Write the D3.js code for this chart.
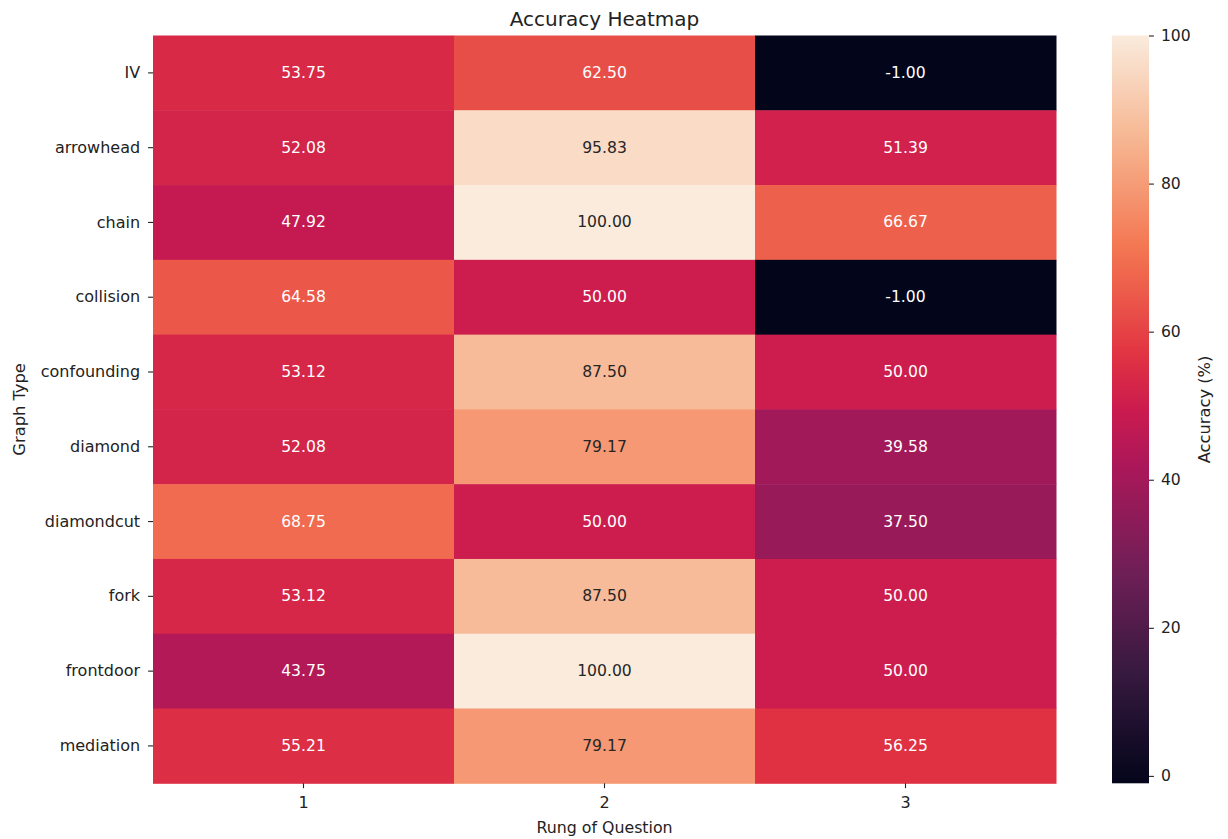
<!DOCTYPE html>
<html>
<head>
<meta charset="utf-8">
<script src="https://cdn.jsdelivr.net/npm/d3@7"></script>
<style>
  body { margin: 0; background: #fff; }
  text { font-family: "DejaVu Sans", sans-serif; }
</style>
</head>
<body>
<svg id="chart" width="1228" height="839"></svg>
<script>
// Graph types (rows) and question rungs (columns)
const graphTypes = ["IV", "arrowhead", "chain", "collision", "confounding",
                    "diamond", "diamondcut", "fork", "frontdoor", "mediation"];
const rungs = ["1", "2", "3"];

// Accuracy (%) per graph type, one array per rung; -1 marks no data
const rung1 = [53.75, 52.08, 47.92, 64.58, 53.12, 52.08, 68.75, 53.12, 43.75, 55.21];
const rung2 = [62.50, 95.83, 100.00, 50.00, 87.50, 79.17, 50.00, 87.50, 100.00, 79.17];
const rung3 = [-1.00, 51.39, 66.67, -1.00, 50.00, 39.58, 37.50, 50.00, 50.00, 56.25];

const colorbarTicks = [0, 20, 40, 60, 80, 100];

const svg = d3.select("#chart");
const plot = { left: 153, right: 1056, top: 35.5, bottom: 783.3 };
const cbar = { left: 1112, right: 1149 };
const INK = "#222";

const seriesByRung = [rung1, rung2, rung3];
const cells = [];
graphTypes.forEach((g, i) => {
  rungs.forEach((r, j) => cells.push({ g, r, v: seriesByRung[j][i] }));
});

const allValues = seriesByRung.flat();
const vmin = d3.min(allValues), vmax = d3.max(allValues);

// "rocket"-style sequential palette (position, colour)
const rocketPos   = [0, 1/7, 2/7, 3/7, 0.5, 4/7, 5/7, 6/7, 1];
const rocketStops = ["#03051a", "#35193e", "#701f57", "#ad1759", "#cb1b4f",
                     "#e13342", "#f37651", "#f6b48f", "#faebdd"];
const t = d3.scaleLinear()
  .domain(rocketPos)
  .range(rocketStops)
  .interpolate(d3.interpolateRgb)
  .clamp(true);
const color = v => t((v - vmin) / (vmax - vmin));

const x = d3.scaleBand().domain(rungs).range([plot.left, plot.right]);
const y = d3.scaleBand().domain(graphTypes).range([plot.top, plot.bottom]);

function luminance(c) {
  const rgb = d3.rgb(c);
  const lin = u => { u /= 255; return u <= 0.03928 ? u / 12.92 : Math.pow((u + 0.055) / 1.055, 2.4); };
  return 0.2126 * lin(rgb.r) + 0.7152 * lin(rgb.g) + 0.0722 * lin(rgb.b);
}

// Cells
svg.append("g").selectAll("rect").data(cells).join("rect")
  .attr("x", d => x(d.r))
  .attr("y", d => y(d.g))
  .attr("width", x.bandwidth() + 0.5)
  .attr("height", y.bandwidth() + 0.5)
  .attr("fill", d => color(d.v));

// Value annotations
svg.append("g").selectAll("text").data(cells).join("text")
  .attr("x", d => x(d.r) + x.bandwidth() / 2)
  .attr("y", d => y(d.g) + y.bandwidth() / 2)
  .attr("text-anchor", "middle")
  .attr("dominant-baseline", "central")
  .attr("font-size", "15.6px")
  .attr("fill", d => luminance(color(d.v)) > 0.408 ? "#262626" : "#ffffff")
  .text(d => d.v.toFixed(2));

// Axes
const xAxis = svg.append("g")
  .attr("transform", `translate(0,${plot.bottom})`)
  .call(d3.axisBottom(x).tickSize(4.9).tickPadding(8));
const yAxis = svg.append("g")
  .attr("transform", `translate(${plot.left},0)`)
  .call(d3.axisLeft(y).tickSize(4.9).tickPadding(8));
[xAxis, yAxis].forEach(a => {
  a.select(".domain").remove();
  a.selectAll(".tick line").attr("stroke", INK).attr("stroke-width", 1.1);
  a.selectAll(".tick text").attr("font-size", "16px").attr("fill", INK)
    .attr("font-family", "DejaVu Sans, sans-serif");
});

// Titles
svg.append("text")
  .attr("x", (plot.left + plot.right) / 2).attr("y", 26)
  .attr("text-anchor", "middle").attr("font-size", "20px").attr("fill", INK)
  .text("Accuracy Heatmap");
svg.append("text")
  .attr("x", (plot.left + plot.right) / 2).attr("y", 833)
  .attr("text-anchor", "middle").attr("font-size", "15.8px").attr("fill", INK)
  .text("Rung of Question");
svg.append("text")
  .attr("transform", `translate(25,${(plot.top + plot.bottom) / 2}) rotate(-90)`)
  .attr("text-anchor", "middle").attr("font-size", "16.3px").attr("fill", INK)
  .text("Graph Type");

// Colorbar
const cy = d3.scaleLinear().domain([vmin, vmax]).range([plot.bottom, plot.top]);
const defs = svg.append("defs");
const grad = defs.append("linearGradient").attr("id", "cbgrad")
  .attr("x1", 0).attr("y1", 1).attr("x2", 0).attr("y2", 0);
d3.range(0, 1.0001, 0.02).forEach(f => {
  grad.append("stop").attr("offset", f).attr("stop-color", t(f));
});
svg.append("rect")
  .attr("x", cbar.left).attr("y", plot.top)
  .attr("width", cbar.right - cbar.left).attr("height", plot.bottom - plot.top)
  .attr("fill", "url(#cbgrad)");
const cAxis = svg.append("g")
  .attr("transform", `translate(${cbar.right},0)`)
  .call(d3.axisRight(cy).tickValues(colorbarTicks).tickSize(4.9).tickPadding(7));
cAxis.select(".domain").remove();
cAxis.selectAll(".tick line").attr("stroke", INK).attr("stroke-width", 1.1);
cAxis.selectAll(".tick text").attr("font-size", "15.6px").attr("fill", INK)
  .attr("font-family", "DejaVu Sans, sans-serif");
svg.append("text")
  .attr("transform", `translate(1210,${(plot.top + plot.bottom) / 2}) rotate(-90)`)
  .attr("text-anchor", "middle").attr("font-size", "16.3px").attr("fill", INK)
  .text("Accuracy (%)");
</script>
</body>
</html>
